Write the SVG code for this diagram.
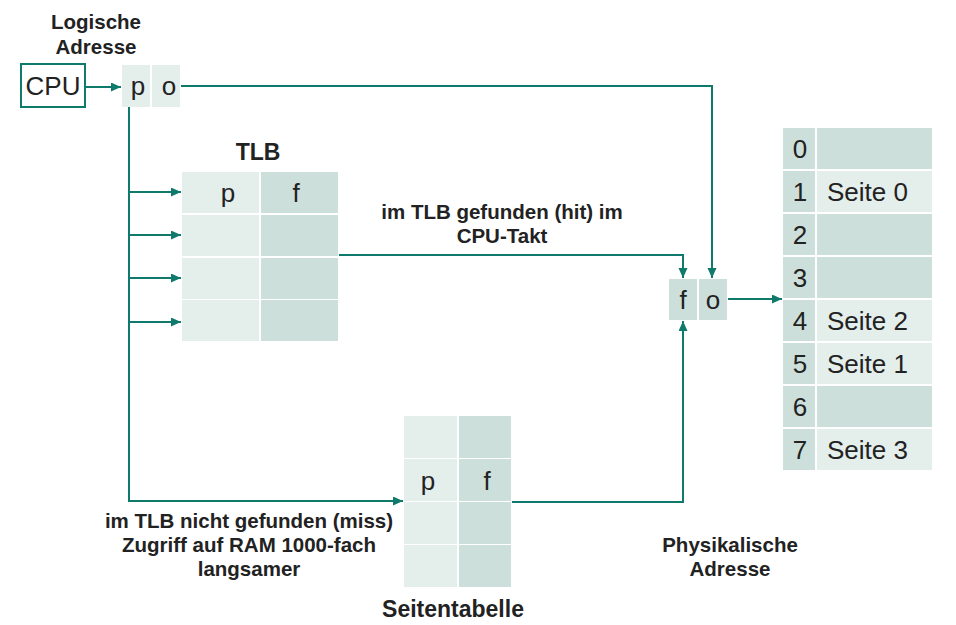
<svg xmlns="http://www.w3.org/2000/svg" width="956" height="625" viewBox="0 0 956 625">
<defs>
<marker id="ah" markerUnits="userSpaceOnUse" markerWidth="11" markerHeight="10" refX="10" refY="4.5" orient="auto">
<path d="M0,0 L10,4.5 L0,9 z" fill="#0f7a6c"/>
</marker>
<style>
.lt{fill:#e4eeeb}
.dk{fill:#cddfda}
.t{font-family:"Liberation Sans",Arial,sans-serif;font-size:26px;fill:#222}
.b{font-family:"Liberation Sans",Arial,sans-serif;font-size:20.5px;font-weight:bold;fill:#222;text-anchor:middle}
.h{font-family:"Liberation Sans",Arial,sans-serif;font-size:23px;font-weight:bold;fill:#222;text-anchor:middle}
.c{text-anchor:middle}
.cn{fill:none;stroke:#0f7a6c;stroke-width:2;marker-end:url(#ah)}
</style>
</defs>
<rect width="956" height="625" fill="#fff"/>

<g id="label-logisch">
<text class="b" x="96" y="29">Logische</text>
<text class="b" x="96" y="54">Adresse</text>
</g>

<g id="cpu">
<rect x="21" y="64" width="64" height="43" fill="#fff" stroke="#0f7a6c" stroke-width="2"/>
<text class="t c" x="53" y="95">CPU</text>
</g>

<g id="logische-adresse">
<rect class="lt" x="122" y="65" width="28" height="42"/>
<rect class="lt" x="152" y="65" width="28" height="42"/>
<text class="t c" x="138" y="95">p</text>
<text class="t c" x="169" y="95">o</text>
</g>

<g id="tlb">
<text class="h" x="258" y="160">TLB</text>
<rect class="lt" x="182" y="172" width="77" height="41"/>
<rect class="dk" x="261" y="172" width="77" height="41"/>
<rect class="lt" x="182" y="215" width="77" height="41"/>
<rect class="dk" x="261" y="215" width="77" height="41"/>
<rect class="lt" x="182" y="258" width="77" height="41"/>
<rect class="dk" x="261" y="258" width="77" height="41"/>
<rect class="lt" x="182" y="300" width="77" height="41"/>
<rect class="dk" x="261" y="300" width="77" height="41"/>
<text class="t c" x="228" y="202">p</text>
<text class="t c" x="296" y="202">f</text>
</g>

<g id="seitentabelle">
<rect class="lt" x="404" y="416" width="53" height="42"/>
<rect class="dk" x="459" y="416" width="52" height="42"/>
<rect class="lt" x="404" y="459" width="53" height="42"/>
<rect class="dk" x="459" y="459" width="52" height="42"/>
<rect class="lt" x="404" y="502" width="53" height="42"/>
<rect class="dk" x="459" y="502" width="52" height="42"/>
<rect class="lt" x="404" y="545" width="53" height="42"/>
<rect class="dk" x="459" y="545" width="52" height="42"/>
<text class="t c" x="428" y="490">p</text>
<text class="t c" x="487" y="490">f</text>
<text class="h" x="453" y="617">Seitentabelle</text>
</g>

<g id="physikalische-adresse">
<rect class="dk" x="669" y="279" width="28" height="41"/>
<rect class="dk" x="699" y="279" width="28" height="41"/>
<text class="t c" x="683" y="309">f</text>
<text class="t c" x="713" y="309">o</text>
</g>

<g id="label-physikalisch">
<text class="b" x="730" y="552">Physikalische</text>
<text class="b" x="730" y="576">Adresse</text>
</g>

<g id="speicher">
<rect class="dk" x="783" y="128" width="32" height="41"/><rect class="dk" x="817" y="128" width="115" height="41"/>
<rect class="dk" x="783" y="171" width="32" height="41"/><rect class="lt" x="817" y="171" width="115" height="41"/>
<rect class="dk" x="783" y="214" width="32" height="41"/><rect class="dk" x="817" y="214" width="115" height="41"/>
<rect class="dk" x="783" y="257" width="32" height="41"/><rect class="dk" x="817" y="257" width="115" height="41"/>
<rect class="dk" x="783" y="300" width="32" height="41"/><rect class="lt" x="817" y="300" width="115" height="41"/>
<rect class="dk" x="783" y="343" width="32" height="41"/><rect class="lt" x="817" y="343" width="115" height="41"/>
<rect class="dk" x="783" y="386" width="32" height="41"/><rect class="dk" x="817" y="386" width="115" height="41"/>
<rect class="dk" x="783" y="429" width="32" height="41"/><rect class="lt" x="817" y="429" width="115" height="41"/>
<text class="t c" x="800" y="158">0</text>
<text class="t c" x="800" y="201">1</text>
<text class="t c" x="800" y="244">2</text>
<text class="t c" x="800" y="287">3</text>
<text class="t c" x="800" y="330">4</text>
<text class="t c" x="800" y="373">5</text>
<text class="t c" x="800" y="416">6</text>
<text class="t c" x="800" y="459">7</text>
<text class="t" x="827" y="201">Seite 0</text>
<text class="t" x="827" y="330">Seite 2</text>
<text class="t" x="827" y="373">Seite 1</text>
<text class="t" x="827" y="459">Seite 3</text>
</g>

<g id="connectors">
<path class="cn" d="M86,87 H121"/>
<path class="cn" d="M181,86 H712 V278"/>
<path class="cn" d="M129,107 V501 H403"/>
<path class="cn" d="M129,192 H181"/>
<path class="cn" d="M129,235 H181"/>
<path class="cn" d="M129,278 H181"/>
<path class="cn" d="M129,322 H181"/>
<path class="cn" d="M339,255 H683 V278"/>
<path class="cn" d="M512,502 H683 V321"/>
<path class="cn" d="M728,299 H782"/>
</g>

<g id="labels">
<text class="b" x="502" y="219">im TLB gefunden (hit) im</text>
<text class="b" x="502" y="243">CPU-Takt</text>
<text class="b" x="249" y="528">im TLB nicht gefunden (miss)</text>
<text class="b" x="249" y="552">Zugriff auf RAM 1000-fach</text>
<text class="b" x="249" y="576">langsamer</text>
</g>
</svg>
